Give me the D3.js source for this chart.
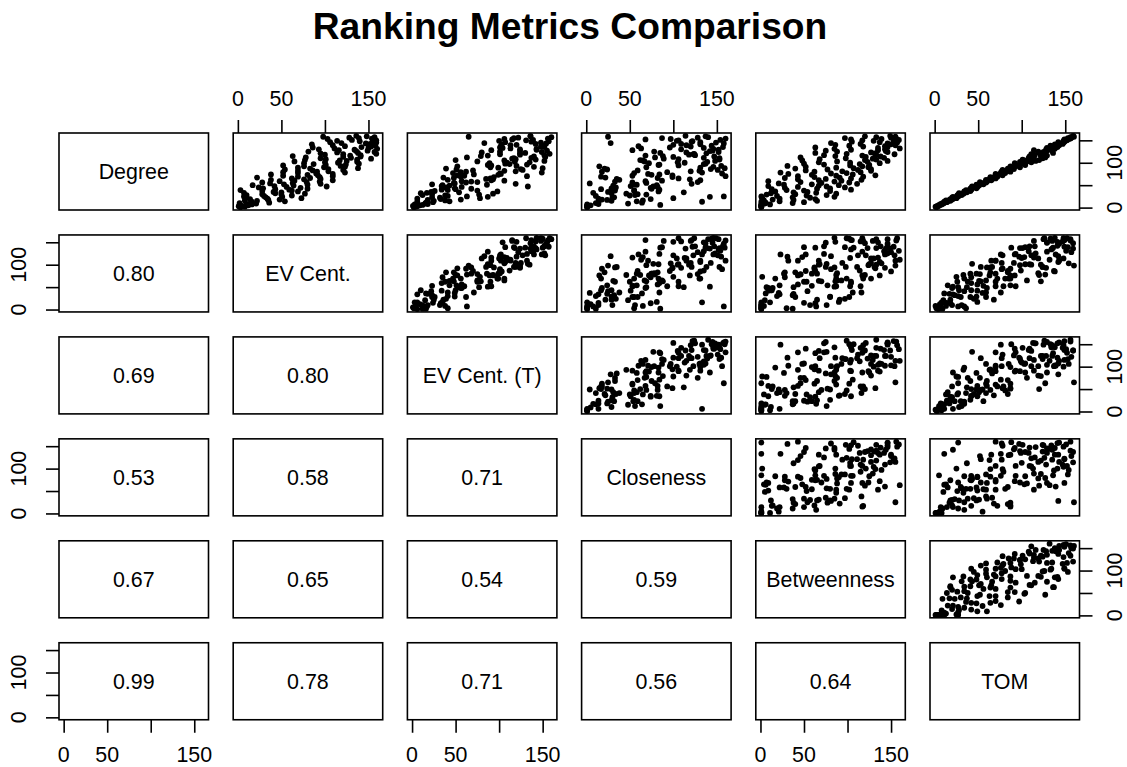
<!DOCTYPE html>
<html>
<head>
<meta charset="utf-8">
<script src="https://cdn.jsdelivr.net/npm/d3@7"></script>
<style>
  body { margin: 0; background: #fff; }
  text { font-family: "Liberation Sans", Arial, Helvetica, sans-serif; fill: #000; }
</style>
</head>
<body>
<svg id="chart" width="1127" height="767"></svg>
<script>
// Node rankings (1 = lowest) under six centrality metrics, nodes listed by degree rank.
const metricNames = ["Degree", "EV Cent.", "EV Cent. (T)", "Closeness", "Betweenness", "TOM"];

const degree = [
  1,2,3,4,5,6,7,8,9,10,11,12,13,14,15,16,17,18,19,20,
  21,22,23,24,25,26,27,28,29,30,31,32,33,34,35,36,37,38,39,40,
  41,42,43,44,45,46,47,48,49,50,51,52,53,54,55,56,57,58,59,60,
  61,62,63,64,65,66,67,68,69,70,71,72,73,74,75,76,77,78,79,80,
  81,82,83,84,85,86,87,88,89,90,91,92,93,94,95,96,97,98,99,100,
  101,102,103,104,105,106,107,108,109,110,111,112,113,114,115,116,117,118,119,120,
  121,122,123,124,125,126,127,128,129,130,131,132,133,134,135,136,137,138,139,140,
  141,142,143,144,145,146,147,148,149,150,151,152,153,154,155,156,157,158,159,160
];

const evCent = [
  3,8,1,5,12,2,16,10,21,2,36,15,16,54,22,8,35,48,14,34,
  73,10,32,51,7,30,62,10,50,28,77,43,7,50,41,69,28,62,3,59,
  43,80,29,72,24,56,102,42,64,17,80,53,95,37,63,28,79,94,48,65,
  109,38,76,95,62,83,22,94,69,109,52,92,80,38,109,90,69,123,52,91,
  104,69,86,121,54,104,83,138,69,99,123,76,118,52,101,124,87,139,76,115,
  100,137,65,125,117,77,137,101,153,95,130,78,121,141,63,129,141,100,121,159,
  95,138,114,157,81,136,149,116,134,93,160,111,150,86,142,153,123,158,109,151,
  85,152,147,119,159,106,155,140,114,159,131,155,103,154,139,128,157,98,148,136
];

const evCentT = [
  2,4,6,1,9,12,3,18,15,16,16,24,6,43,25,38,18,56,33,6,
  78,32,23,87,63,41,38,12,77,23,93,10,17,54,22,98,26,75,41,34,
  50,68,49,35,39,57,133,34,43,35,86,23,119,49,48,62,75,68,57,106,
  91,41,93,85,90,48,36,94,56,132,60,52,99,71,102,101,47,149,56,62,
  119,106,70,127,51,125,39,150,99,90,140,52,120,91,87,132,112,107,89,109,
  135,118,75,152,106,50,142,119,115,117,137,63,153,140,79,87,152,124,101,158,
  124,130,80,149,101,124,155,91,143,124,143,113,104,101,152,148,102,150,113,120,
  103,142,154,83,148,107,137,157,100,131,139,115,106,156,117,122,160,65,136,136
];

const closeness = [
  1,1,1,1,5,85,1,14,48,11,64,14,133,58,29,65,24,18,74,14,
  100,30,32,142,158,11,50,56,69,59,46,29,8,112,25,83,55,33,55,84,
  17,75,29,74,34,82,77,51,31,81,58,54,121,4,69,53,128,33,68,87,
  131,38,119,35,106,82,22,99,17,160,53,99,75,84,71,156,55,133,93,18,
  120,130,59,151,24,143,21,159,131,69,146,15,155,106,83,84,135,137,72,113,
  105,139,67,148,65,62,153,106,89,153,135,79,100,147,88,68,125,118,123,124,
  138,85,115,152,78,142,145,53,152,109,146,63,135,96,157,120,60,144,115,100,
  131,109,158,28,149,131,121,122,104,106,154,68,97,160,87,128,140,25,137,114
];

const betweenness = [
  1,1,1,1,1,1,11,1,5,37,6,50,1,22,65,4,38,14,63,22,
  2,57,37,85,1,19,53,76,7,40,87,12,64,38,54,17,80,50,30,104,
  13,65,80,28,97,43,76,9,67,90,27,59,111,21,70,102,46,85,9,93,
  67,116,43,75,104,28,91,62,118,43,87,132,59,106,32,81,99,23,115,62,
  94,127,52,112,77,127,40,107,87,124,52,117,31,103,125,73,114,50,137,103,
  67,123,88,146,48,120,133,68,129,98,142,46,121,138,86,117,73,133,154,99,
  131,63,127,146,88,144,75,135,104,143,85,160,135,63,146,118,143,102,155,86,
  150,115,146,81,157,137,105,153,130,117,159,104,139,156,97,150,133,155,120,149
];

const tom = [
  2,1,4,3,6,5,8,7,10,9,11,14,11,15,18,13,17,20,18,21,
  25,20,23,21,27,27,26,31,27,30,33,28,34,37,34,34,41,38,36,42,
  42,41,48,42,45,49,43,49,51,49,48,56,53,55,53,59,52,60,60,59,
  65,59,63,66,70,64,68,64,72,70,70,78,70,76,70,77,81,76,79,87,
  77,85,84,78,87,91,84,88,87,98,92,87,97,93,104,93,99,104,92,100,
  111,98,106,116,103,120,101,109,114,124,108,127,113,109,122,129,115,122,111,126,
  124,136,119,125,119,135,129,114,134,128,138,132,129,137,141,135,139,133,143,141,
  138,147,143,142,148,142,149,149,148,152,151,149,154,156,153,157,156,160,159,159
];

// Lower-triangle correlation coefficients, row by row (row metric vs earlier metrics).
const correlations = [
  [],
  [0.80],
  [0.69, 0.80],
  [0.53, 0.58, 0.71],
  [0.67, 0.65, 0.54, 0.59],
  [0.99, 0.78, 0.71, 0.56, 0.64]
];

const tickValues = [0, 50, 100, 150];
const xLabelTicks = [0, 50, 150];   // 100 is left unlabelled where labels would crowd
const yLabelTicks = [0, 100];

const series = [degree, evCent, evCentT, closeness, betweenness, tom];

// ---- layout ----
const layout = {
  left: 59, top: 133,
  colStep: 174.2, rowStep: 101.95,
  panelW: 149.5, panelH: 77,
  tickLen: 13
};
const fontSize = 21.4;

const svg = d3.select("#chart");

svg.append("text")
  .attr("x", 570)
  .attr("y", 39)
  .attr("text-anchor", "middle")
  .style("font-size", "37.2px")
  .style("font-weight", "bold")
  .text("Ranking Metrics Comparison");

// Each metric gets a domain padded by 4% on both sides.
const domains = series.map(s => {
  const [lo, hi] = d3.extent(s);
  const pad = (hi - lo) * 0.04;
  return [lo - pad, hi + pad];
});

const n = series.length;
const pairs = d3.range(n).flatMap(i => d3.range(n).map(j => ({ i, j })));

pairs.forEach(({ i, j }) => {
  const x0 = layout.left + j * layout.colStep;
  const y0 = layout.top + i * layout.rowStep;
  const g = svg.append("g").attr("transform", `translate(${x0},${y0})`);

  const xs = d3.scaleLinear().domain(domains[j]).range([0, layout.panelW]);
  const ys = d3.scaleLinear().domain(domains[i]).range([layout.panelH, 0]);

  if (i < j) {
    const pts = d3.range(series[i].length).map(k => ({ x: series[j][k], y: series[i][k] }));
    g.selectAll("circle")
      .data(pts)
      .join("circle")
      .attr("cx", d => xs(d.x))
      .attr("cy", d => ys(d.y))
      .attr("r", 2.9)
      .attr("fill", "#000");
  } else if (i === j) {
    g.append("text")
      .attr("x", layout.panelW / 2)
      .attr("y", layout.panelH / 2)
      .attr("dy", "0.35em")
      .attr("text-anchor", "middle")
      .style("font-size", fontSize + "px")
      .text(metricNames[i]);
  } else {
    g.append("text")
      .attr("x", layout.panelW / 2)
      .attr("y", layout.panelH / 2)
      .attr("dy", "0.35em")
      .attr("text-anchor", "middle")
      .style("font-size", fontSize + "px")
      .text(d3.format(".2f")(correlations[i][j]));
  }

  g.append("rect")
    .attr("x", 0).attr("y", 0)
    .attr("width", layout.panelW).attr("height", layout.panelH)
    .attr("fill", "none")
    .attr("stroke", "#000")
    .attr("stroke-width", 1.6);

  const styleAxis = sel => {
    sel.select(".domain").remove();
    sel.selectAll(".tick line").attr("stroke", "#000").attr("stroke-width", 1.6);
  };

  // top axis on even columns of the first row
  if (i === 0 && j % 2 === 1) {
    g.append("g")
      .call(d3.axisTop(xs).tickValues(tickValues).tickSize(layout.tickLen).tickFormat(() => ""))
      .call(styleAxis);
    g.selectAll(".xlab").data(xLabelTicks).join("text")
      .attr("class", "xlab")
      .attr("x", v => xs(v)).attr("y", -27)
      .attr("text-anchor", "middle")
      .style("font-size", fontSize + "px")
      .text(v => v);
  }
  // bottom axis on odd columns of the last row
  if (i === n - 1 && j % 2 === 0) {
    g.append("g")
      .attr("transform", `translate(0,${layout.panelH})`)
      .call(d3.axisBottom(xs).tickValues(tickValues).tickSize(layout.tickLen).tickFormat(() => ""))
      .call(styleAxis);
    g.selectAll(".xlab").data(xLabelTicks).join("text")
      .attr("class", "xlab")
      .attr("x", v => xs(v)).attr("y", layout.panelH + 42)
      .attr("text-anchor", "middle")
      .style("font-size", fontSize + "px")
      .text(v => v);
  }
  // left axis on even rows of the first column
  if (j === 0 && i % 2 === 1) {
    g.append("g")
      .call(d3.axisLeft(ys).tickValues(tickValues).tickSize(layout.tickLen).tickFormat(() => ""))
      .call(styleAxis);
    g.selectAll(".ylab").data(yLabelTicks).join("text")
      .attr("class", "ylab")
      .attr("transform", v => `translate(-33,${ys(v)}) rotate(-90)`)
      .attr("text-anchor", "middle")
      .style("font-size", fontSize + "px")
      .text(v => v);
  }
  // right axis on odd rows of the last column
  if (j === n - 1 && i % 2 === 0) {
    g.append("g")
      .attr("transform", `translate(${layout.panelW},0)`)
      .call(d3.axisRight(ys).tickValues(tickValues).tickSize(layout.tickLen).tickFormat(() => ""))
      .call(styleAxis);
    g.selectAll(".ylab").data(yLabelTicks).join("text")
      .attr("class", "ylab")
      .attr("transform", v => `translate(${layout.panelW + 42.5},${ys(v)}) rotate(-90)`)
      .attr("text-anchor", "middle")
      .style("font-size", fontSize + "px")
      .text(v => v);
  }
});
</script>
</body>
</html>
